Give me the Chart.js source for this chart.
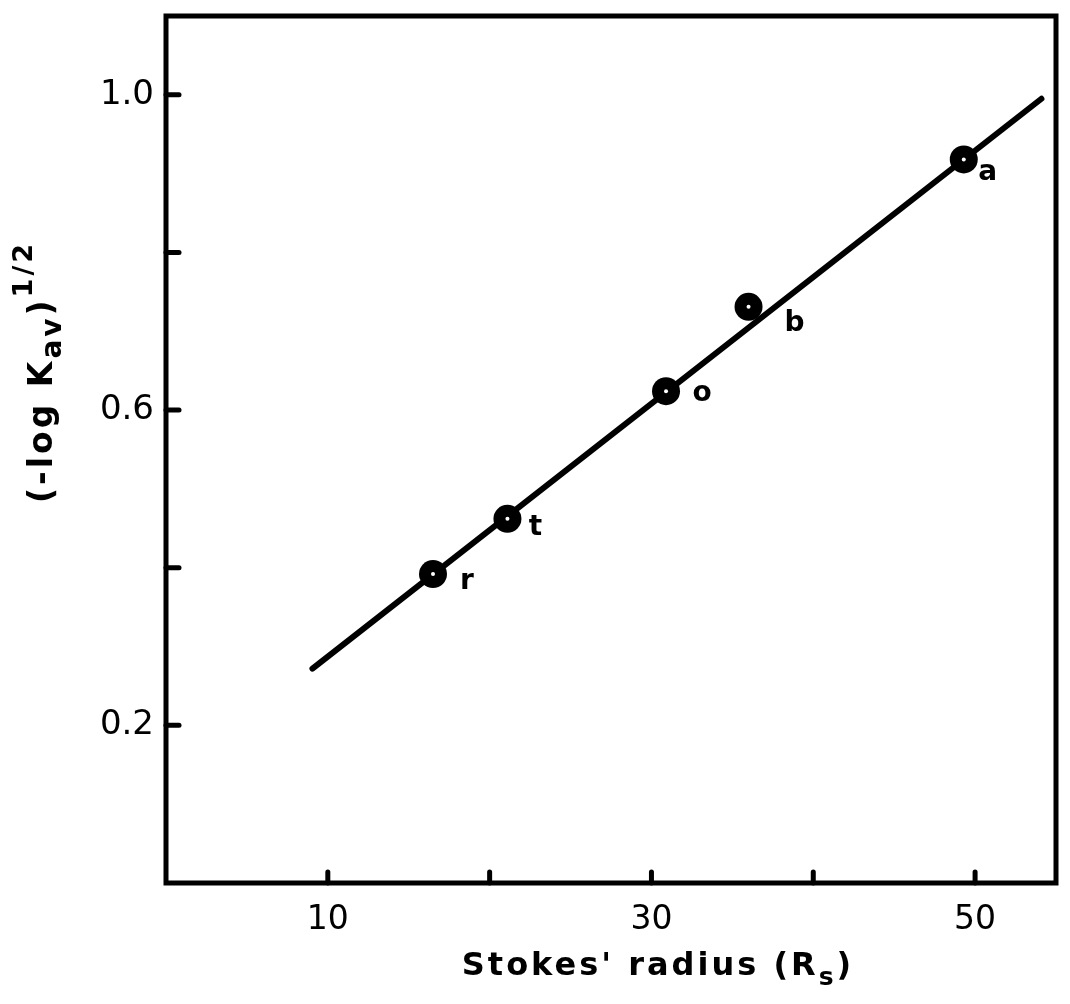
<!DOCTYPE html>
<html>
<head>
<meta charset="utf-8">
<script src="https://cdn.jsdelivr.net/npm/chart.js@4"></script>
<style>
html,body{margin:0;padding:0;background:#fff;}
canvas{display:block;}
</style>
</head>
<body>
<canvas id="c" width="1070" height="1004"></canvas>
<script>
// ---- data ----
const pointLabels = ['r', 't', 'o', 'b', 'a'];
const stokesRadius = [16.5, 21.1, 30.9, 36.0, 49.3];
const sqrtNegLogKav = [0.392, 0.462, 0.624, 0.731, 0.918];
const fitLineX = [9.05, 54.1];
const fitLineY = [0.272, 0.995];
const xTicks = [10, 20, 30, 40, 50];
const xTickLabels = ['10', '', '30', '', '50'];
const yTicks = [0.2, 0.4, 0.6, 0.8, 1.0];
const yTickLabels = ['0.2', '', '0.6', '', '1.0'];

const FONT = '"DejaVu Sans", "Liberation Sans", sans-serif';
const labelOffsets = {r:[34,8], t:[28,9], o:[36,3], b:[46,17], a:[24,13]};

const framePlugin = {
  id: 'frame',
  afterDatasetsDraw(chart) {
    const ctx = chart.ctx;
    const a = chart.chartArea;
    const xs = chart.scales.x, ys = chart.scales.y;
    ctx.save();
    ctx.strokeStyle = '#000';
    ctx.lineWidth = 5;
    ctx.lineJoin = 'miter';
    ctx.strokeRect(a.left, a.top, a.right - a.left, a.bottom - a.top);
    // inward tick marks
    ctx.lineWidth = 5;
    ctx.lineCap = 'round';
    xTicks.forEach(v => {
      const px = xs.getPixelForValue(v);
      ctx.beginPath(); ctx.moveTo(px, a.bottom); ctx.lineTo(px, a.bottom - 11); ctx.stroke();
    });
    yTicks.forEach(v => {
      const py = ys.getPixelForValue(v);
      ctx.beginPath(); ctx.moveTo(a.left, py); ctx.lineTo(a.left + 13, py); ctx.stroke();
    });
    // point letters
    const meta = chart.getDatasetMeta(1);
    ctx.fillStyle = '#000';
    ctx.font = 'bold 28px ' + FONT;
    ctx.textAlign = 'center';
    ctx.textBaseline = 'middle';
    meta.data.forEach((el, i) => {
      const lab = pointLabels[i];
      const off = labelOffsets[lab];
      ctx.fillText(lab, el.x + off[0], el.y + off[1]);
    });
    // x-axis title with subscript
    ctx.textAlign = 'left';
    ctx.textBaseline = 'alphabetic';
    ctx.letterSpacing = '3px';
    const t1 = "Stokes' radius (R";
    const sub = 's';
    const t2 = ')';
    ctx.font = 'bold 32px ' + FONT;
    const w1 = ctx.measureText(t1).width;
    ctx.font = 'bold 25px ' + FONT;
    const ws = ctx.measureText(sub).width;
    ctx.font = 'bold 32px ' + FONT;
    const w2 = ctx.measureText(t2).width;
    const total = w1 + ws + w2;
    let x0 = 658 - total / 2;
    const base = 975;
    ctx.fillText(t1, x0, base);
    ctx.font = 'bold 25px ' + FONT;
    ctx.fillText(sub, x0 + w1, base + 10);
    ctx.font = 'bold 32px ' + FONT;
    ctx.fillText(t2, x0 + w1 + ws, base);
    // y-axis title rotated with subscript and superscript
    ctx.save();
    ctx.translate(52, 372);
    ctx.rotate(-Math.PI / 2);
    const parts = [
      {t: '(-log K', f: 'bold 33px ', dy: 0},
      {t: 'av', f: 'bold 28px ', dy: 9},
      {t: ')', f: 'bold 33px ', dy: 0},
      {t: '1/2', f: 'bold 27px ', dy: -20}
    ];
    let tw = 0;
    parts.forEach(p => { ctx.font = p.f + FONT; p.w = ctx.measureText(p.t).width; tw += p.w; });
    let xx = -tw / 2;
    parts.forEach(p => { ctx.font = p.f + FONT; ctx.fillText(p.t, xx, p.dy); xx += p.w; });
    ctx.restore();
    ctx.restore();
  }
};

new Chart(document.getElementById('c'), {
  type: 'scatter',
  data: {
    datasets: [
      {
        type: 'line',
        data: fitLineX.map((x, i) => ({x, y: fitLineY[i]})),
        borderColor: '#000',
        borderWidth: 6,
        borderCapStyle: 'round',
        pointRadius: 0,
        fill: false,
        order: 3
      },
      {
        data: stokesRadius.map((x, i) => ({x, y: sqrtNegLogKav[i]})),
        backgroundColor: '#000',
        borderColor: '#000',
        borderWidth: 0,
        pointRadius: 14,
        order: 2
      },
      {
        data: stokesRadius.map((x, i) => ({x, y: sqrtNegLogKav[i]})),
        backgroundColor: '#fff',
        borderColor: '#fff',
        borderWidth: 0,
        pointRadius: 2,
        order: 1
      }
    ]
  },
  options: {
    responsive: false,
    animation: false,
    devicePixelRatio: 1,
    layout: {padding: {top: 16, right: 13, left: 0, bottom: 0}},
    plugins: {legend: {display: false}, tooltip: {enabled: false}},
    scales: {
      x: {
        type: 'linear', min: 0, max: 55,
        afterBuildTicks: s => { s.ticks = xTicks.map(v => ({value: v})); },
        afterFit: s => { s.height = 121; s.paddingLeft = 0; s.paddingRight = 0; },
        grid: {display: false, drawTicks: false},
        border: {display: false},
        ticks: {
          color: '#000', padding: 18,
          font: {family: FONT, size: 33},
          callback: v => xTickLabels[xTicks.indexOf(v)] || ''
        }
      },
      y: {
        type: 'linear', min: 0, max: 1.1,
        afterBuildTicks: s => { s.ticks = yTicks.map(v => ({value: v})); },
        afterFit: s => { s.width = 166; s.paddingTop = 0; s.paddingBottom = 0; },
        grid: {display: false, drawTicks: false},
        border: {display: false},
        ticks: {
          color: '#000', padding: 12,
          font: {family: FONT, size: 34},
          callback: v => { const i = yTicks.findIndex(t => Math.abs(t - v) < 1e-9); return i >= 0 ? yTickLabels[i] : ''; }
        }
      }
    }
  },
  plugins: [framePlugin]
});
</script>
</body>
</html>
